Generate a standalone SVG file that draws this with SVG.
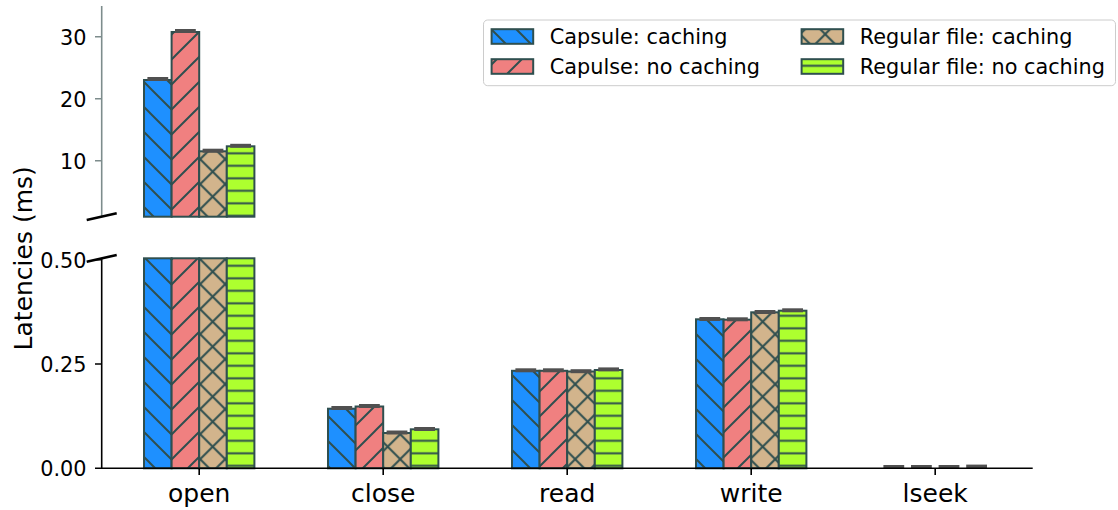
<svg xmlns="http://www.w3.org/2000/svg" width="1118" height="510" viewBox="0 0 1118 510">
  <style>
    text { font-family: "DejaVu Sans", "Liberation Sans", sans-serif; fill: #000; }
    .tick { font-size: 20.8px; text-anchor: end; }
    .xlab { font-size: 25px; text-anchor: middle; }
    .leg { font-size: 20.8px; }
    .bar { stroke: #2f4f4f; stroke-width: 2; }
    .cap { stroke: #505050; stroke-width: 4; }
    .spine { stroke: #000; stroke-width: 1.6; fill: none; }
    .spine-top { stroke: #7d8c8c; stroke-width: 1.6; fill: none; }
    .brk { stroke: #000; stroke-width: 2.6; }
    .b { fill: url(#h-blue); }
    .r { fill: url(#h-red); }
    .t { fill: url(#h-tan); }
    .g { fill: url(#h-green); }
  </style>
  <defs>
    <!-- hatch fills: back-slash, slash, cross and horizontal stripes -->
    <pattern id="h-blue" patternUnits="userSpaceOnUse" x="0" y="13" width="25" height="25">
      <rect width="25" height="25" fill="#1e90ff"/>
      <path d="M0,0L25,25M-5,20L5,30M20,-5L30,5" stroke="#2f4f4f" stroke-width="2"/>
    </pattern>
    <pattern id="h-red" patternUnits="userSpaceOnUse" x="0" y="6" width="25" height="25">
      <rect width="25" height="25" fill="#f08080"/>
      <path d="M0,25L25,0M-5,5L5,-5M20,30L30,20" stroke="#2f4f4f" stroke-width="2"/>
    </pattern>
    <pattern id="h-tan" patternUnits="userSpaceOnUse" x="0.2" y="9.2" width="25" height="25">
      <rect width="25" height="25" fill="#d2b48c"/>
      <path d="M0,0L25,25M-5,20L5,30M20,-5L30,5M0,25L25,0M-5,5L5,-5M20,30L30,20" stroke="#2f4f4f" stroke-width="2"/>
    </pattern>
    <pattern id="h-green" patternUnits="userSpaceOnUse" x="0" y="-2.95" width="25" height="12.5">
      <rect width="25" height="12.5" fill="#adff2f"/>
      <path d="M-1,6.25H26" stroke="#2f4f4f" stroke-width="2"/>
    </pattern>
  </defs>

  <rect width="1118" height="510" fill="#fff"/>

  <!-- upper panel (large values) -->
  <g id="open-upper">
    <rect class="bar b" x="144" y="80" width="27.6" height="136.7"/>
    <rect class="bar r" x="171.6" y="32" width="27.6" height="184.7"/>
    <rect class="bar t" x="199.2" y="151.3" width="27.6" height="65.4"/>
    <rect class="bar g" x="226.8" y="146.3" width="27.6" height="70.4"/>
    <line class="cap" x1="147.4" y1="79" x2="168.2" y2="79"/>
    <line class="cap" x1="175" y1="31" x2="195.8" y2="31"/>
    <line class="cap" x1="202.6" y1="150.7" x2="223.4" y2="150.7"/>
    <line class="cap" x1="230.2" y1="145.8" x2="251" y2="145.8"/>
  </g>

  <g id="axis-upper">
    <path class="spine-top" d="M101.7,6V216.7"/>
    <path class="spine-top" d="M95,36.7H101.7M95,98.7H101.7M95,160.7H101.7"/>
    <text class="tick" x="86.5" y="44.5">30</text>
    <text class="tick" x="86.5" y="106.5">20</text>
    <text class="tick" x="86.5" y="168.5">10</text>
  </g>

  <!-- lower panel (small values) -->
  <g id="open">
    <rect class="bar b" x="144" y="258.3" width="27.6" height="210"/>
    <rect class="bar r" x="171.6" y="258.3" width="27.6" height="210"/>
    <rect class="bar t" x="199.2" y="258.3" width="27.6" height="210"/>
    <rect class="bar g" x="226.8" y="258.3" width="27.6" height="210"/>
  </g>
  <g id="close">
    <rect class="bar b" x="328" y="408.7" width="27.6" height="59.6"/>
    <rect class="bar r" x="355.6" y="406.5" width="27.6" height="61.8"/>
    <rect class="bar t" x="383.2" y="433" width="27.6" height="35.3"/>
    <rect class="bar g" x="410.8" y="429.3" width="27.6" height="39"/>
    <line class="cap" x1="331.4" y1="408" x2="352.2" y2="408"/>
    <line class="cap" x1="359" y1="406" x2="379.8" y2="406"/>
    <line class="cap" x1="386.6" y1="432.5" x2="407.4" y2="432.5"/>
    <line class="cap" x1="414.2" y1="429" x2="435" y2="429"/>
  </g>
  <g id="read">
    <rect class="bar b" x="512" y="370.8" width="27.6" height="97.5"/>
    <rect class="bar r" x="539.6" y="370.8" width="27.6" height="97.5"/>
    <rect class="bar t" x="567.2" y="371.5" width="27.6" height="96.8"/>
    <rect class="bar g" x="594.8" y="370" width="27.6" height="98.3"/>
    <line class="cap" x1="515.4" y1="370.3" x2="536.2" y2="370.3"/>
    <line class="cap" x1="543" y1="370.3" x2="563.8" y2="370.3"/>
    <line class="cap" x1="570.6" y1="371.2" x2="591.4" y2="371.2"/>
    <line class="cap" x1="598.2" y1="369.4" x2="619" y2="369.4"/>
  </g>
  <g id="write">
    <rect class="bar b" x="696" y="319.3" width="27.6" height="149"/>
    <rect class="bar r" x="723.6" y="319.7" width="27.6" height="148.6"/>
    <rect class="bar t" x="751.2" y="312.3" width="27.6" height="156"/>
    <rect class="bar g" x="778.8" y="310.7" width="27.6" height="157.6"/>
    <line class="cap" x1="699.4" y1="319" x2="720.2" y2="319"/>
    <line class="cap" x1="727" y1="319.3" x2="747.8" y2="319.3"/>
    <line class="cap" x1="754.6" y1="312" x2="775.4" y2="312"/>
    <line class="cap" x1="782.2" y1="310.3" x2="803" y2="310.3"/>
  </g>
  <g id="lseek">
    <line class="cap" x1="883.4" y1="467" x2="904.2" y2="467"/>
    <line class="cap" x1="911" y1="467" x2="931.8" y2="467"/>
    <line class="cap" x1="938.6" y1="467" x2="959.4" y2="467"/>
    <line class="cap" x1="966.2" y1="466.6" x2="987" y2="466.6"/>
  </g>

  <g id="axis-lower">
    <path class="spine" d="M101.7,258.3V468.3H1032.7"/>
    <path class="spine" d="M95,259.7H101.7M95,364H101.7M95,468.3H101.7"/>
    <path class="spine" d="M199.2,468.3V475M383.2,468.3V475M567.2,468.3V475M751.2,468.3V475M935.2,468.3V475"/>
    <text class="tick" x="86.5" y="267.5">0.50</text>
    <text class="tick" x="86.5" y="371.8">0.25</text>
    <text class="tick" x="86.5" y="476.1">0.00</text>
    <text class="xlab" x="199.2" y="502">open</text>
    <text class="xlab" x="383.2" y="502">close</text>
    <text class="xlab" x="567.2" y="502">read</text>
    <text class="xlab" x="751.2" y="502">write</text>
    <text class="xlab" x="935.2" y="502">lseek</text>
    <text class="xlab" transform="translate(32.3,258.3) rotate(-90)">Latencies (ms)</text>
  </g>

  <!-- axis break marks -->
  <g id="breaks">
    <line class="brk" x1="86.7" y1="220" x2="116.7" y2="213.3"/>
    <line class="brk" x1="86.7" y1="261.7" x2="116.7" y2="255"/>
  </g>

  <g id="legend">
    <rect x="483.5" y="20" width="632" height="65.7" rx="4.2" fill="#fff" fill-opacity="0.8" stroke="#cccccc" stroke-width="1"/>
    <rect class="bar b" x="491.6" y="29.2" width="41.6" height="14.6"/>
    <rect class="bar r" x="491.6" y="59.2" width="41.6" height="14.6"/>
    <rect class="bar t" x="801.6" y="29.2" width="41.6" height="14.6"/>
    <rect class="bar g" x="801.6" y="59.2" width="41.6" height="14.6"/>
    <text class="leg" x="549.8" y="44.3">Capsule: caching</text>
    <text class="leg" x="549.8" y="74.3">Capulse: no caching</text>
    <text class="leg" x="859.8" y="44.3">Regular file: caching</text>
    <text class="leg" x="859.8" y="74.3">Regular file: no caching</text>
  </g>
</svg>
